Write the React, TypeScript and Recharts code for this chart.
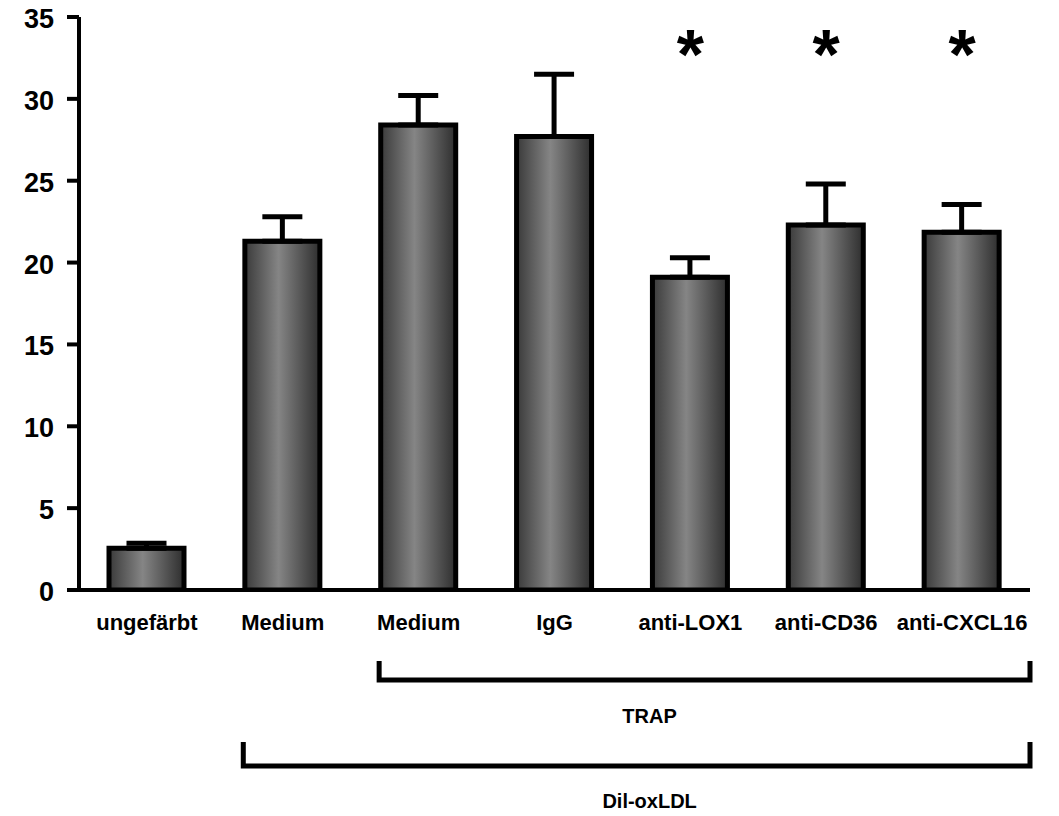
import { ComposedChart, Bar, ErrorBar, Scatter, XAxis, YAxis, Customized } from 'recharts'

const categories = ['ungefärbt', 'Medium', 'Medium', 'IgG', 'anti-LOX1', 'anti-CD36', 'anti-CXCL16']
const means = [2.55, 21.3, 28.4, 27.7, 19.1, 22.3, 21.85]
const sems = [0.3, 1.5, 1.8, 3.8, 1.2, 2.5, 1.7]
const significant = [false, false, false, false, true, true, true]
const starLevel = 33.2
const yTicks = [0, 5, 10, 15, 20, 25, 30, 35]

const LIFT = 6 // pull the svg up a little so the top tick label has room
const W = 1043
const H = 808 + LIFT
const MARGIN = { top: 9 + LIFT, right: 21, bottom: 186, left: 11 }
const Y_AXIS_W = 60
const BAR_SIZE = 75
const FONT = '"Liberation Sans", Arial, sans-serif'

const data = categories.map((name, i) => ({
  id: String(i),
  name,
  value: means[i],
  err: [0, sems[i]],
  star: significant[i] ? starLevel : null,
}))

const XTick = ({ x, y, payload }: any) => (
  <text x={x} y={y + 38} textAnchor="middle" fontSize={22} fontWeight="bold" fontFamily={FONT} fill="#000">
    {categories[Number(payload.value)]}
  </text>
)

const YTick = ({ x, y, payload }: any) => (
  <text x={x} y={y + 11} textAnchor="end" fontSize={27} fontWeight="bold" fontFamily={FONT} fill="#000">
    {payload.value}
  </text>
)

const Star = ({ cx, cy }: any) => {
  if (cx == null || cy == null || Number.isNaN(cy)) return null
  return (
    <text x={cx} y={cy + 33} textAnchor="middle" fontSize={70} fontWeight="bold" fontFamily={FONT} fill="#000">
      *
    </text>
  )
}

// brackets under the axis, positioned from the same layout constants as the chart
const Brackets = () => {
  const plotLeft = MARGIN.left + Y_AXIS_W
  const plotWidth = W - MARGIN.left - MARGIN.right - Y_AXIS_W
  const band = plotWidth / categories.length
  const barLeft = (i: number) => plotLeft + band * i + band / 2 - BAR_SIZE / 2 - 2
  const right = plotLeft + plotWidth
  const labelX = plotLeft + band * 4.2
  const groups = [
    { from: 2, top: 653, y: 672, label: 'TRAP', labelY: 715 },
    { from: 1, top: 734, y: 758, label: 'Dil-oxLDL', labelY: 800 },
  ]
  return (
    <g transform={`translate(0, ${LIFT})`}>
      {groups.map((g) => (
        <g key={g.label}>
          <polyline
            points={`${barLeft(g.from)},${g.top} ${barLeft(g.from)},${g.y} ${right},${g.y} ${right},${g.top}`}
            fill="none"
            stroke="#000"
            strokeWidth={5}
          />
          <text x={labelX} y={g.labelY} textAnchor="middle" fontSize={20} fontWeight="bold" fontFamily={FONT} fill="#000">
            {g.label}
          </text>
        </g>
      ))}
    </g>
  )
}

export default function App() {
  return (
    <div style={{ width: W, height: H, marginTop: -LIFT, background: '#fff' }}>
      <ComposedChart width={W} height={H} data={data} margin={MARGIN}>
        <defs>
          <linearGradient id="barFill" x1="0" y1="0" x2="1" y2="0">
            <stop offset="0%" stopColor="#3a3a3a" />
            <stop offset="45%" stopColor="#858585" />
            <stop offset="100%" stopColor="#2e2e2e" />
          </linearGradient>
        </defs>
        <XAxis
          dataKey="id"
          tick={<XTick />}
          tickLine={false}
          tickSize={0}
          axisLine={{ stroke: '#000', strokeWidth: 4 }}
          height={40}
          interval={0}
        />
        <YAxis
          domain={[0, 35]}
          ticks={yTicks}
          width={Y_AXIS_W}
          tickSize={12}
          tickMargin={13}
          axisLine={{ stroke: '#000', strokeWidth: 4 }}
          tickLine={{ stroke: '#000', strokeWidth: 4 }}
          tick={<YTick />}
          allowDataOverflow
        />
        <Bar dataKey="value" barSize={BAR_SIZE} fill="url(#barFill)" stroke="#000" strokeWidth={5} isAnimationActive={false}>
          <ErrorBar dataKey="err" width={20} stroke="#000" strokeWidth={5} direction="y" />
        </Bar>
        <Scatter dataKey="star" shape={<Star />} isAnimationActive={false} />
        <Customized component={Brackets} />
      </ComposedChart>
    </div>
  )
}
